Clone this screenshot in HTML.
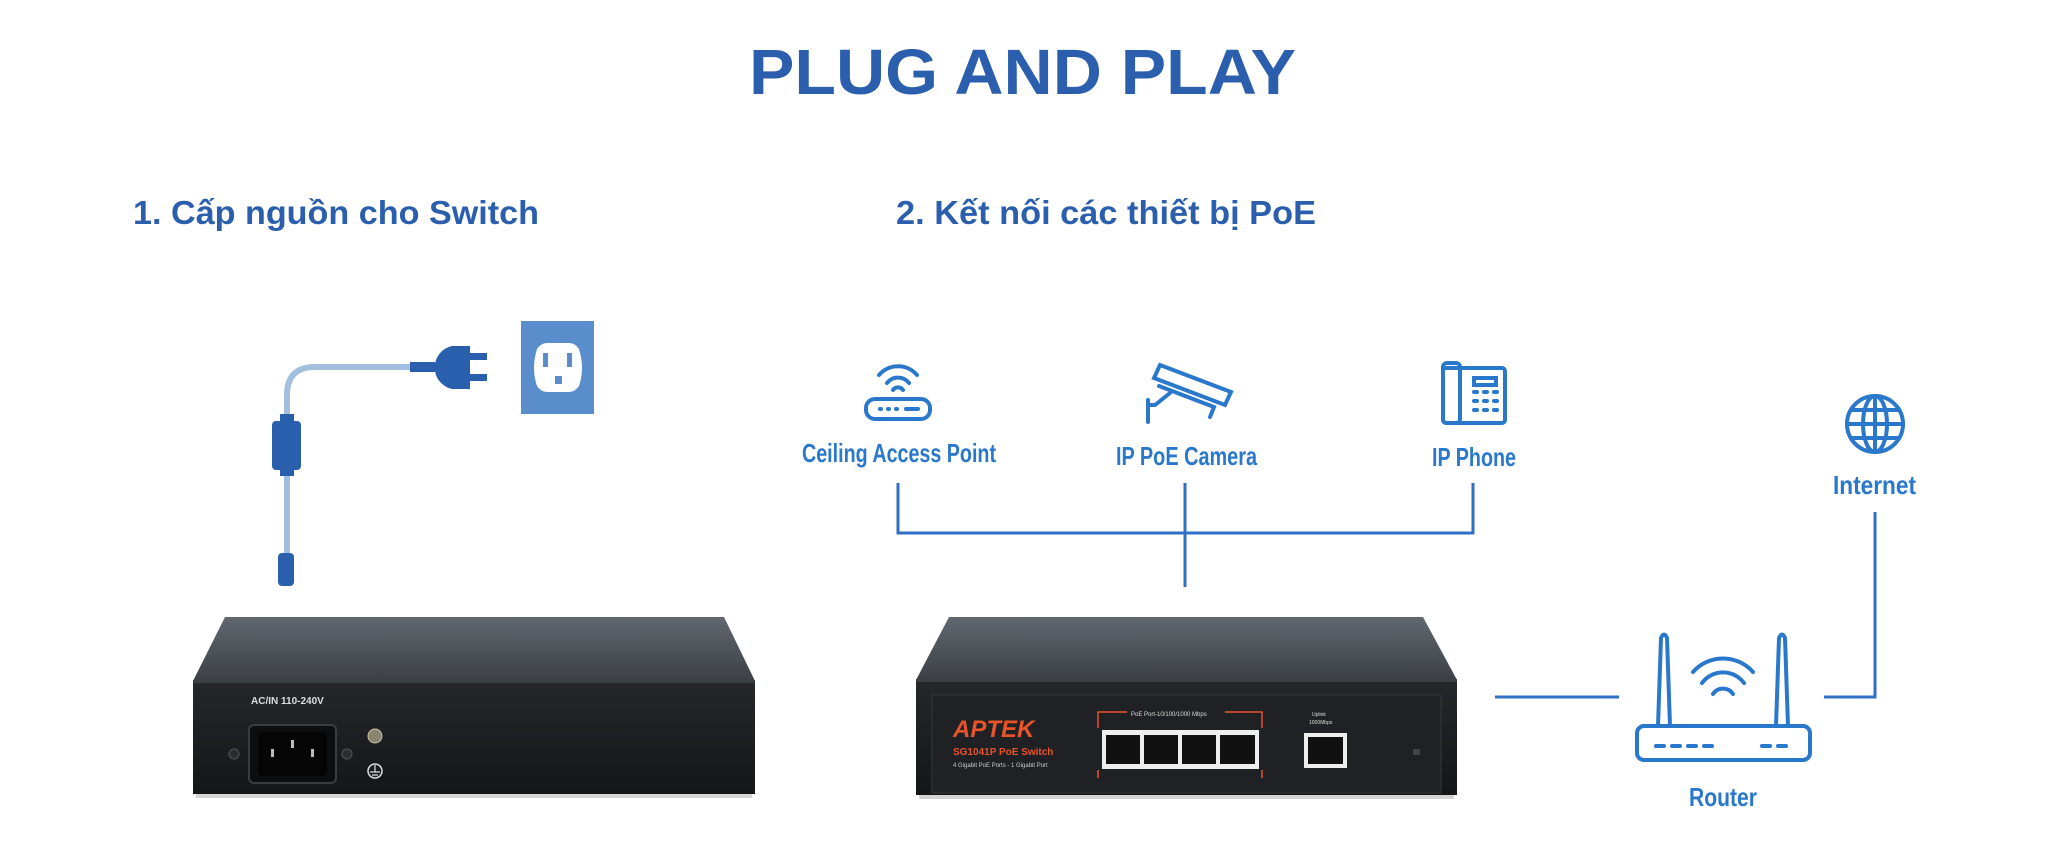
<!DOCTYPE html>
<html><head><meta charset="utf-8"><style>
html,body{margin:0;padding:0;background:#fff;}
svg{display:block}
</style></head><body>
<svg width="2047" height="862" viewBox="0 0 2047 862" xmlns="http://www.w3.org/2000/svg">
<defs>
<linearGradient id="top" x1="0" y1="0" x2="0" y2="1"><stop offset="0" stop-color="#62686f"/><stop offset="1" stop-color="#3c4046"/></linearGradient>
<linearGradient id="front" x1="0" y1="0" x2="0" y2="1"><stop offset="0" stop-color="#25272a"/><stop offset="1" stop-color="#151618"/></linearGradient>
</defs>
<rect width="2047" height="862" fill="#fff"/>
<g font-family="'Liberation Sans','DejaVu Sans',sans-serif" font-weight="bold">
<text x="749" y="94" font-size="64" fill="#2b5fad" textLength="547" lengthAdjust="spacingAndGlyphs">PLUG AND PLAY</text>
<text x="133" y="224" font-size="33" fill="#2b5fad" textLength="406" lengthAdjust="spacingAndGlyphs">1. Cấp nguồn cho Switch</text>
<text x="896" y="224" font-size="33" fill="#2b5fad" textLength="420" lengthAdjust="spacingAndGlyphs">2. Kết nối các thiết bị PoE</text>
</g>
<g font-family="'Liberation Sans Narrow','Liberation Sans',sans-serif" font-weight="bold" fill="#2a78cc" font-size="26">
<text x="802" y="462" textLength="194" lengthAdjust="spacingAndGlyphs">Ceiling Access Point</text>
<text x="1116" y="465" textLength="141" lengthAdjust="spacingAndGlyphs">IP PoE Camera</text>
<text x="1432" y="466" textLength="84" lengthAdjust="spacingAndGlyphs">IP Phone</text>
<text x="1833" y="494" textLength="83" lengthAdjust="spacingAndGlyphs">Internet</text>
<text x="1689" y="806" textLength="68" lengthAdjust="spacingAndGlyphs">Router</text>
</g>

<!-- power cable -->
<path d="M287 421 V395 Q287 367 315 367 H412" fill="none" stroke="#a3bfe0" stroke-width="6"/>
<line x1="287" y1="470" x2="287" y2="555" stroke="#a3bfe0" stroke-width="6"/>
<rect x="280" y="414" width="14" height="10" fill="#2a5fae"/>
<rect x="272" y="421" width="29" height="49" rx="4" fill="#2a5fae"/>
<rect x="280" y="468" width="14" height="8" fill="#2a5fae"/>
<rect x="278" y="553" width="16" height="33" rx="4" fill="#2a5fae"/>
<rect x="410" y="362" width="25" height="10" fill="#2a5fae"/>
<path d="M470 346 H452 A22 22 0 0 0 452 389 H470 Z" fill="#2a5fae"/>
<rect x="469" y="353" width="18" height="7" fill="#2a5fae"/>
<rect x="469" y="374" width="18" height="7" fill="#2a5fae"/>
<rect x="521" y="321" width="73" height="93" fill="#5a8dcb"/>
<path d="M537 349 Q541 343 547 343 H569 Q575 343 579 349 Q585 368 579 386 Q575 392 569 392 H547 Q541 392 537 386 Q531 368 537 349 Z" fill="#fff"/>
<rect x="543" y="353" width="5" height="14" fill="#5a8dcb"/>
<rect x="567" y="353" width="5" height="14" fill="#5a8dcb"/>
<rect x="555" y="376" width="7" height="8" fill="#5a8dcb"/>

<!-- left switch -->
<polygon points="225,617 724,617 755,681 193,681" fill="url(#top)"/>
<rect x="193" y="680" width="562" height="114" fill="url(#front)"/>
<rect x="193" y="680" width="562" height="3" fill="#3b3e42"/>
<rect x="196" y="794" width="556" height="4" fill="#aaa" opacity=".5"/>
<text x="251" y="704" font-family="'Liberation Sans',sans-serif" font-weight="bold" font-size="10" fill="#ddd">AC/IN 110-240V</text>
<rect x="249" y="725" width="87" height="58" rx="5" fill="#0d0e10" stroke="#3a3c40" stroke-width="2"/>
<rect x="258" y="732" width="69" height="44" rx="4" fill="#050506"/>
<rect x="271" y="749" width="3" height="8" fill="#bbb"/><rect x="291" y="740" width="3" height="8" fill="#bbb"/><rect x="311" y="749" width="3" height="8" fill="#bbb"/>
<circle cx="234" cy="754" r="5" fill="#2a2c2f" stroke="#555"/>
<circle cx="347" cy="754" r="5" fill="#2a2c2f" stroke="#555"/>
<circle cx="375" cy="736" r="7" fill="#8a8570" stroke="#c8c2a8"/>
<circle cx="375" cy="771" r="7" fill="none" stroke="#ddd" stroke-width="1.5"/>
<path d="M375 765 V772 M370 772 H380 M372 775 H378" stroke="#ddd" stroke-width="1.2"/>

<!-- right switch -->
<polygon points="949,617 1423,617 1457,680 916,680" fill="url(#top)"/>
<rect x="916" y="679" width="541" height="116" fill="url(#front)"/>
<rect x="916" y="679" width="541" height="3" fill="#3b3e42"/>
<rect x="919" y="795" width="535" height="4" fill="#aaa" opacity=".5"/>
<rect x="932" y="695" width="509" height="98" fill="#1f2124" stroke="#34373b"/>
<text x="953" y="737" font-family="'Liberation Sans',sans-serif" font-style="italic" font-weight="bold" font-size="24" fill="#e8542a">APTEK</text>
<text x="953" y="755" font-family="'Liberation Sans',sans-serif" font-weight="bold" font-size="10" fill="#e8542a">SG1041P PoE Switch</text>
<text x="953" y="767" font-family="'Liberation Sans',sans-serif" font-size="6" fill="#ccc">4 Gigabit PoE Ports - 1 Gigabit Port</text>
<path d="M1098 728 V712 H1127 M1225 712 H1262 V728 M1098 770 V778 M1262 770 V778" fill="none" stroke="#e8542a" stroke-width="1.5"/>
<text x="1131" y="716" font-family="'Liberation Sans',sans-serif" font-size="6" fill="#ddd">PoE Port-10/100/1000 Mbps</text>
<rect x="1102" y="730" width="157" height="39" fill="#eee"/>
<g fill="#111">
<rect x="1106" y="735" width="34" height="29"/><rect x="1144" y="735" width="34" height="29"/><rect x="1182" y="735" width="34" height="29"/><rect x="1220" y="735" width="35" height="29"/>
</g>
<rect x="1304" y="733" width="43" height="35" fill="#eee"/>
<rect x="1308" y="737" width="35" height="27" fill="#111"/>
<text x="1312" y="716" font-family="'Liberation Sans',sans-serif" font-size="5" fill="#ddd">Uplink</text>
<text x="1309" y="724" font-family="'Liberation Sans',sans-serif" font-size="5" fill="#ddd">1000Mbps</text>
<rect x="1413" y="749" width="7" height="6" fill="#444"/>

<!-- connectors -->
<g stroke="#2f6fc4" stroke-width="3" fill="none">
<path d="M898 483 V533 H1473 V483"/>
<path d="M1185 483 V587"/>
<path d="M1495 697 H1619"/>
<path d="M1824 697 H1875 V512"/>
</g>

<!-- icons -->
<g stroke="#2a78cc" stroke-width="4" fill="none" stroke-linecap="round">
<!-- AP -->
<rect x="866" y="399" width="64" height="20" rx="9"/>
<path d="M880 409 h1 M888 409 h1 M896 409 h1 M906 409 h12"/>
<path d="M887 383 a14 14 0 0 1 22 0 M879 375 a25 25 0 0 1 38 0 M893 390 a6 6 0 0 1 10 0"/>
<!-- camera -->
<path d="M1160 365 L1231 392 L1225 405 L1154 378 Z"/>
<path d="M1159 386 L1214 407 L1210 417"/>
<path d="M1148 400 V422 M1148 405 H1155 L1170 393"/>
<!-- phone -->
<rect x="1443" y="368" width="62" height="55" rx="3"/>
<rect x="1443" y="363" width="17" height="60" rx="4"/>
<rect x="1474" y="378" width="22" height="7"/>
<path d="M1474 392 h3 M1484 392 h3 M1494 392 h3 M1474 401 h3 M1484 401 h3 M1494 401 h3 M1474 410 h3 M1484 410 h3 M1494 410 h3" stroke-width="4"/>
<!-- globe -->
<circle cx="1875" cy="424" r="28"/>
<ellipse cx="1875" cy="424" rx="12" ry="28"/>
<path d="M1875 396 V452 M1847 424 H1903 M1851 410 H1899 M1851 438 H1899"/>
<!-- router -->
<rect x="1637" y="726" width="173" height="34" rx="7"/>
<path d="M1658 726 L1661 638 Q1664 631 1667 638 L1670 726"/>
<path d="M1776 726 L1779 638 Q1782 631 1785 638 L1788 726"/>
<path d="M1656 746 h8 M1672 746 h8 M1688 746 h8 M1704 746 h8 M1762 746 h8 M1778 746 h8"/>
<path d="M1693 672 a40 40 0 0 1 60 0 M1702 683 a26 26 0 0 1 42 0 M1713 694 a12 12 0 0 1 20 0"/>
</g>
</svg>
</body></html>
